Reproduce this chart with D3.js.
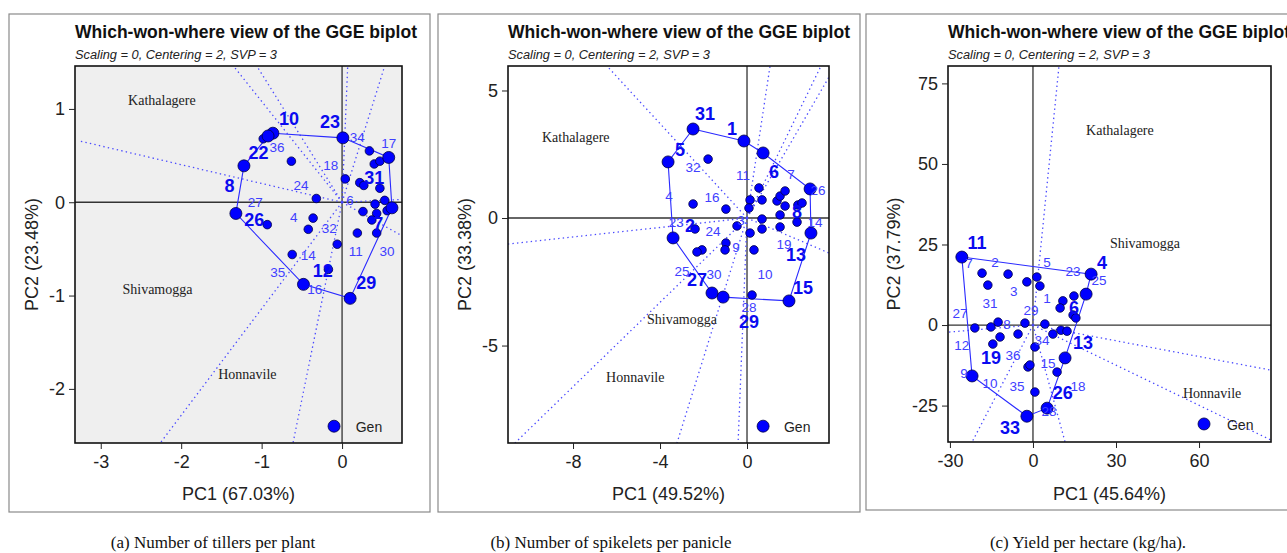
<!DOCTYPE html>
<head>
<meta charset="utf-8">
<script src="https://d3js.org/d3.v7.min.js"></script>
<style>
  body { margin: 0; background: #fff; }
  text { font-family: "Liberation Sans", Arial, sans-serif; }
  text.title { font-size: 17.5px; font-weight: 700; fill: #111; }
  text.subTitle { font-size: 12.5px; font-style: italic; fill: #222; }
  text.tickLbl { font-size: 18px; fill: #222; }
  text.axisLbl { font-size: 18px; fill: #222; }
  text.env { font-family: "Liberation Serif", "Times New Roman", serif; font-size: 14px; fill: #222; }
  text.caption { font-family: "Liberation Serif", "Times New Roman", serif; font-size: 17px; fill: #111; }
  text.gLbl { font-size: 13.5px; fill: #4040ff; }
  text.gLbl.big { font-size: 18px; font-weight: 700; fill: #0a0af0; }
</style>
<title>Which-won-where GGE biplots</title>
</head>
<body>
<script>
const width = 1287, height = 553;

// ---------- panel (a): tillers per plant ----------
const aTitleY = "PC2 (23.48%)", aTitleX = "PC1 (67.03%)";
const aTicksX = [-3, -2, -1, 0], aTicksY = [-2, -1, 0, 1];
const aHull = [[-0.86,0.74],[0.01,0.69],[0.58,0.48],[0.62,-0.06],[0.10,-1.03],[-0.48,-0.88],[-1.32,-0.12],[-1.22,0.39],[-0.92,0.71]];
const aDots = [[-0.63,0.44],[0.34,0.55],[0.40,0.41],[0.47,0.44],[0.04,0.25],[0.22,0.21],[0.27,0.18],[0.47,0.15],
  [-0.32,0.04],[0.26,-0.10],[0.41,-0.02],[0.43,-0.12],[0.56,-0.09],[-0.93,-0.24],[-0.36,-0.17],[-0.42,-0.29],
  [-0.62,-0.56],[-0.06,-0.45],[-0.17,-0.72],[0.19,-0.33],[0.43,-0.33],[0.37,-0.19],[0.53,0.02],[-0.98,0.68]];
const aLabels = [["10",-0.66,0.90,1],["23",-0.15,0.86,1],["34",0.19,0.70,0],["17",0.58,0.63,0],["22",-1.04,0.53,1],
  ["36",-0.81,0.59,0],["18",-0.14,0.40,0],["31",0.40,0.26,1],["8",-1.40,0.18,1],["24",-0.51,0.18,0],["6",0.10,0.02,0],
  ["27",-1.08,0.00,0],["26",-1.09,-0.19,1],["4",-0.60,-0.16,0],["32",-0.16,-0.28,0],["7",0.45,-0.23,1],
  ["11",0.17,-0.53,0],["30",0.56,-0.53,0],["14",-0.42,-0.57,0],["35",-0.80,-0.75,0],["12",-0.24,-0.73,1],
  ["16",-0.34,-0.93,0],["29",0.30,-0.86,1]];
const aRays = [[-3.28,0.66],[-1.35,1.46],[-1.06,1.46],[0.07,1.46],[0.53,1.46],[0.745,0.03],[0.745,-0.36],[-0.61,-2.58],[-2.26,-2.58]];
const aEnv = [["Kathalagere",-2.66,1.09],["Shivamogga",-2.73,-0.93],["Honnavile",-1.54,-1.84]];
const aGen = [-0.10, -2.40, 0.17];

// ---------- panel (b): spikelets per panicle ----------
const bTitleY = "PC2 (33.38%)", bTitleX = "PC1 (49.52%)";
const bTicksX = [-8, -4, 0], bTicksY = [-5, 0, 5];
const bHull = [[-2.48,3.49],[-0.14,3.02],[0.74,2.55],[2.90,1.14],[2.94,-0.59],[1.93,-3.25],[-1.10,-3.10],[-1.61,-2.94],[-3.40,-0.78],[-3.63,2.20]];
const bDots = [[-1.79,2.31],[-2.48,0.55],[-0.97,0.35],[0.55,1.18],[0.14,0.71],[0.69,0.71],[1.38,0.67],[1.52,0.86],
  [1.75,1.06],[1.75,0.47],[2.34,0.51],[2.53,0.59],[0.09,0.39],[0.69,-0.04],[1.52,0.12],[2.30,-0.16],[1.52,-0.35],
  [0.69,-0.43],[0.14,-0.59],[-0.46,-0.31],[-2.39,-0.43],[-0.97,-0.98],[-1.01,-1.25],[-2.07,-1.25],[-2.30,-1.33],
  [0.32,-1.25],[0.23,-3.02]];
const bLabels = [["31",-1.93,4.08,1],["1",-0.69,3.49,1],["5",-3.08,2.67,1],["32",-2.48,2.00,0],["11",-0.18,1.69,0],
  ["6",1.24,1.80,1],["7",2.02,1.73,0],["26",3.26,1.10,0],["4",-3.59,0.86,0],["16",-1.61,0.82,0],["8",2.30,0.24,1],
  ["14",3.13,-0.16,0],["23",-3.25,-0.16,0],["2",-2.62,-0.30,1],["24",-1.56,-0.51,0],["3",-0.28,-0.08,0],
  ["9",-0.51,-1.14,0],["19",1.70,-1.02,0],["13",2.25,-1.45,1],["25",-2.99,-2.08,0],["27",-2.30,-2.43,1],
  ["30",-1.52,-2.20,0],["10",0.83,-2.20,0],["15",2.57,-2.75,1],["28",0.09,-3.48,0],["29",0.09,-4.05,1]];
const bRays = [[-6.44,5.96],[1.06,5.96],[3.40,5.96],[3.77,5.53],[3.77,-1.37],[-0.41,-8.82],[-3.22,-8.82],[-10.67,-8.82],[-10.99,-1.02]];
const bEnv = [["Kathalagere",-9.43,3.18],["Shivamogga",-4.60,-3.96],["Honnavile",-6.48,-6.24]];
const bGen = [0.74, -8.16, 1.70];

// ---------- panel (c): yield per hectare ----------
const cTitleY = "PC2 (37.79%)", cTitleX = "PC1 (45.64%)";
const cTicksX = [-30, 0, 30, 60], cTicksY = [-25, 0, 25, 50, 75];
const cHull = [[-25.7,21.1],[21.0,15.8],[19.2,9.6],[11.6,-10.2],[5.1,-25.8],[-2.2,-28.3],[-22.0,-15.8]];
const cDots = [[-18.4,16.1],[-9.0,15.8],[-16.3,12.4],[-2.2,13.4],[1.4,14.9],[2.5,12.1],[14.8,9.0],[10.8,7.5],
  [9.8,5.3],[14.5,3.1],[15.5,2.2],[-21.0,-0.9],[-15.2,-0.6],[-12.6,0.9],[-2.9,0.6],[4.3,0.3],[7.2,-2.8],
  [10.1,-1.6],[12.3,-1.9],[-5.4,-2.8],[-11.9,-3.7],[-14.5,-5.9],[0.7,-6.8],[-1.8,-13.0],[-1.1,-12.4],
  [8.7,-14.6],[0.7,-20.8]];
const cLabels = [["11",-20.2,25.5,1],["7",-23.1,19.3,0],["2",-13.7,19.6,0],["5",5.1,19.6,0],["23",14.5,16.8,0],
  ["4",24.9,19.3,1],["25",23.9,14.0,0],["3",-6.9,10.6,0],["31",-15.5,6.8,0],["1",5.1,8.4,0],["6",14.8,5.3,1],
  ["27",-26.4,3.7,0],["29",-0.7,4.7,0],["8",-9.4,0.3,0],["12",-25.7,-6.2,0],["34",3.3,-4.7,0],["13",18.1,-5.6,1],
  ["36",-7.2,-9.3,0],["19",-15.2,-10.2,1],["15",5.4,-11.8,0],["9",-24.9,-14.9,0],["10",-15.5,-18.0,0],
  ["35",-5.8,-18.9,0],["26",10.8,-21.1,1],["18",16.3,-18.9,0],["28",5.8,-26.7,0],["33",-8.3,-32.0,1]];
const cRays = [[9.4,80.4],[86.0,-14.0],[86.0,-35.7],[-30.7,-2.2],[-22.0,-36.3],[11.6,-36.3]];
const cEnv = [["Kathalagere",19.2,60.6],["Shivamogga",27.8,25.5],["Honnavile",54.2,-21.1]];
const cGen = [61.8, -30.7, 70.1];

const captions = ["(a) Number of tillers per plant", "(b) Number of spikelets per panicle", "(c) Yield per hectare (kg/ha)."];

const panels = [
  { id: "a", box: [9, 14, 421, 498], plot: [75, 402, 66, 443], xd: [-3.32, 0.745], yd: [-2.58, 1.46], bg: "#efefef",
    ylx: 32, tx: aTicksX, ty: aTicksY, xl: aTitleX, yl: aTitleY, hull: aHull, dots: aDots, labels: aLabels,
    rays: aRays, env: aEnv, gen: aGen, cap: captions[0], capX: 213 },
  { id: "b", box: [438, 14, 422, 498], plot: [508, 829, 66, 443], xd: [-10.99, 3.77], yd: [-8.82, 5.96], bg: "#fff",
    ylx: 465, tx: bTicksX, ty: bTicksY, xl: bTitleX, yl: bTitleY, hull: bHull, dots: bDots, labels: bLabels,
    rays: bRays, env: bEnv, gen: bGen, cap: captions[1], capX: 611 },
  { id: "c", box: [866, 14, 440, 496], plot: [948, 1271, 66, 442], xd: [-30.7, 86.0], yd: [-36.3, 80.4], bg: "#fff",
    ylx: 894, tx: cTicksX, ty: cTicksY, xl: cTitleX, yl: cTitleY, hull: cHull, dots: cDots, labels: cLabels,
    rays: cRays, env: cEnv, gen: cGen, cap: captions[2], capX: 1088 }
];

const svg = d3.select("body").append("svg")
  .attr("width", width)
  .attr("height", height);

const fmt = d => String(d);   // plain hyphen minus, like the original R plots

panels.forEach(p => {
  const [x0, x1, y0, y1] = p.plot;
  const x = d3.scaleLinear().domain(p.xd).range([x0, x1]);
  const y = d3.scaleLinear().domain(p.yd).range([y1, y0]);
  const g = svg.append("g");

  // outer frame
  g.append("rect")
    .attr("x", p.box[0]).attr("y", p.box[1])
    .attr("width", p.box[2]).attr("height", p.box[3])
    .attr("fill", "none").attr("stroke", "#8a8a8a").attr("stroke-width", 1.2);

  g.append("text").attr("class", "title")
    .attr("x", x0).attr("y", 38)
    .attr("textLength", 342).attr("lengthAdjust", "spacingAndGlyphs")
    .text("Which-won-where view of the GGE biplot");
  g.append("text").attr("class", "subTitle")
    .attr("x", x0).attr("y", 59)
    .attr("textLength", 202).attr("lengthAdjust", "spacingAndGlyphs")
    .text("Scaling = 0, Centering = 2, SVP = 3");

  g.append("rect")
    .attr("x", x0).attr("y", y0).attr("width", x1 - x0).attr("height", y1 - y0)
    .attr("fill", p.bg);

  const clipId = "clip-" + p.id;
  g.append("clipPath").attr("id", clipId)
    .append("rect").attr("x", x0).attr("y", y0).attr("width", x1 - x0).attr("height", y1 - y0);
  const inner = g.append("g").attr("clip-path", `url(#${clipId})`);

  // zero lines
  inner.append("line").attr("x1", x0).attr("x2", x1).attr("y1", y(0)).attr("y2", y(0))
    .attr("stroke", "#333").attr("stroke-width", 1.3);
  inner.append("line").attr("x1", x(0)).attr("x2", x(0)).attr("y1", y0).attr("y2", y1)
    .attr("stroke", "#333").attr("stroke-width", 1.3);

  // rays from origin
  inner.selectAll("line.ray").data(p.rays).enter().append("line")
    .attr("class", "ray")
    .attr("x1", x(0)).attr("y1", y(0))
    .attr("x2", d => x(d[0])).attr("y2", d => y(d[1]))
    .attr("stroke", "#4a4aff").attr("stroke-width", 1.3)
    .attr("stroke-dasharray", "1.4,3.2");

  // hull polygon
  inner.append("path")
    .attr("d", d3.line().x(d => x(d[0])).y(d => y(d[1])).curve(d3.curveLinearClosed)(p.hull))
    .attr("fill", "none").attr("stroke", "#2a2aff").attr("stroke-width", 1.1);

  // environment names
  inner.selectAll("text.env").data(p.env).enter().append("text")
    .attr("class", "env")
    .attr("x", d => x(d[1])).attr("y", d => y(d[2]))
    .attr("dy", "0.35em")
    .text(d => d[0]);

  // genotype points
  inner.selectAll("circle.dot").data(p.dots).enter().append("circle")
    .attr("class", "dot")
    .attr("cx", d => x(d[0])).attr("cy", d => y(d[1])).attr("r", 4.3)
    .attr("fill", "#0000ff").attr("stroke", "#000044").attr("stroke-width", 0.8);
  inner.selectAll("circle.vtx").data(p.hull).enter().append("circle")
    .attr("class", "vtx")
    .attr("cx", d => x(d[0])).attr("cy", d => y(d[1])).attr("r", 6)
    .attr("fill", "#0000ff").attr("stroke", "#000044").attr("stroke-width", 0.8);

  // genotype labels
  inner.selectAll("text.gLbl").data(p.labels).enter().append("text")
    .attr("class", d => d[3] ? "gLbl big" : "gLbl")
    .attr("x", d => x(d[1])).attr("y", d => y(d[2]))
    .attr("dy", "0.35em")
    .attr("text-anchor", "middle")
    .text(d => d[0]);

  // legend
  inner.append("circle")
    .attr("cx", x(p.gen[0])).attr("cy", y(p.gen[1])).attr("r", 6)
    .attr("fill", "#0000ff").attr("stroke", "#000044").attr("stroke-width", 0.8);
  inner.append("text")
    .attr("x", x(p.gen[2])).attr("y", y(p.gen[1])).attr("dy", "0.4em")
    .style("font-size", "14px").style("fill", "#222")
    .text("Gen");

  // plot frame
  g.append("rect")
    .attr("x", x0).attr("y", y0).attr("width", x1 - x0).attr("height", y1 - y0)
    .attr("fill", "none").attr("stroke", "#111").attr("stroke-width", 1.6);

  // axes
  g.append("g")
    .attr("transform", `translate(0,${y1})`)
    .call(d3.axisBottom(x).tickValues(p.tx).tickSize(6).tickPadding(6).tickFormat(fmt))
    .call(a => a.select(".domain").remove())
    .call(a => a.selectAll(".tick line").attr("stroke", "#222"))
    .call(a => a.selectAll(".tick text").attr("class", "tickLbl").attr("font-size", null).attr("font-family", null));
  g.append("g")
    .attr("transform", `translate(${x0},0)`)
    .call(d3.axisLeft(y).tickValues(p.ty).tickSize(6).tickPadding(4).tickFormat(fmt))
    .call(a => a.select(".domain").remove())
    .call(a => a.selectAll(".tick line").attr("stroke", "#222"))
    .call(a => a.selectAll(".tick text").attr("class", "tickLbl").attr("font-size", null).attr("font-family", null));

  g.append("text").attr("class", "axisLbl")
    .attr("x", (x0 + x1) / 2).attr("y", 500)
    .attr("text-anchor", "middle")
    .text(p.xl);
  g.append("text").attr("class", "axisLbl")
    .attr("transform", `translate(${p.ylx},${(y0 + y1) / 2}) rotate(-90)`)
    .attr("dy", "0.35em")
    .attr("text-anchor", "middle")
    .text(p.yl);

  svg.append("text").attr("class", "caption")
    .attr("x", p.capX).attr("y", 548)
    .attr("text-anchor", "middle")
    .text(p.cap);
});
</script>
</body>
